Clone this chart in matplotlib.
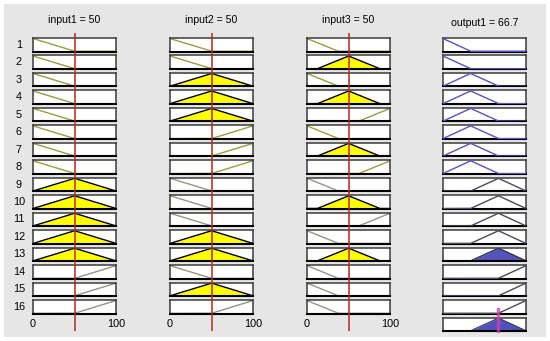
import numpy as np
import matplotlib.pyplot as plt


# =====================================
# Data
# =====================================

input_names = ["input1", "input2", "input3"]
input_values = [50, 50, 50]
output_name = "output1"
output_value = 66.7

# membership functions (triangles a, b, c) per variable
in12_mfs = [(0, 0, 50), (0, 50, 100), (50, 100, 100)]
in3_mfs = [(0, 0, 37.5), (12.5, 50, 87.5), (62.5, 100, 100)]
input_mfs = [in12_mfs, in12_mfs, in3_mfs]
output_mfs = [(0, 0, 33.3), (0, 33.3, 66.7), (33.3, 66.7, 100), (66.7, 100, 100)]

# rule base (mf index for each rule)
rule_in1 = [0, 0, 0, 0, 0, 0, 0, 0, 1, 1, 1, 1, 1, 2, 2, 2]
rule_in2 = [0, 0, 1, 1, 1, 2, 2, 2, 0, 0, 0, 1, 1, 0, 1, 2]
rule_in3 = [0, 1, 0, 1, 2, 0, 1, 2, 0, 1, 2, 0, 1, 0, 0, 0]
rule_out = [0, 0, 1, 1, 1, 1, 1, 1, 2, 2, 2, 2, 2, 3, 3, 3]
rule_inputs = [rule_in1, rule_in2, rule_in3]


def trimf(x, p):
    a, b, c = p
    y = np.zeros_like(x)
    if b > a:
        m = (x >= a) & (x <= b)
        y[m] = (x[m] - a) / (b - a)
    else:
        y[(x >= a) & (x <= b)] = 1.0
    if c > b:
        m = (x >= b) & (x <= c)
        y[m] = np.maximum(y[m], (c - x[m]) / (c - b))
    else:
        y[x == c] = 1.0
    return y


x = np.linspace(0, 100, 601)


# =====================================
# Layout (pixels)
# =====================================

W, H = 550, 341
fig = plt.figure(figsize=(W / 100, H / 100), dpi=100)
fig.patch.set_facecolor("white")


def px_axes(x0, y0, w, h):
    return fig.add_axes([x0 / W, 1 - (y0 + h) / H, w / W, h / H])


bg = px_axes(4, 4, 542, 333)
bg.set_facecolor("#e6e6e6")
bg.set_xticks([])
bg.set_yticks([])
for s in bg.spines.values():
    s.set_visible(False)
bg.set_zorder(-5)

col_x = [33, 170, 307, 443]
box_w = 83
row_top0 = 38
pitch = 17.47
box_h = 13.5


def style_box(ax):
    ax.set_xlim(0, 100)
    ax.set_ylim(-0.02, 1.04)
    ax.set_xticks([])
    ax.set_yticks([])
    ax.set_facecolor("white")
    for s in ax.spines.values():
        s.set_color("#3a3a3a")
        s.set_linewidth(1.1)
    ax.spines["bottom"].set_color("black")
    ax.spines["bottom"].set_linewidth(1.5)


n_rules = len(rule_out)
strengths = []

# =====================================
# Input columns
# =====================================

for r in range(n_rules):
    mus = []
    for j in range(3):
        mf = input_mfs[j][rule_inputs[j][r]]
        mus.append(trimf(np.array([float(input_values[j])]), mf)[0])
    strengths.append(min(mus))

    for j in range(3):
        mf = input_mfs[j][rule_inputs[j][r]]
        mu = mus[j]
        y = trimf(x, mf)
        ax = px_axes(col_x[j], row_top0 + r * pitch, box_w, box_h)
        style_box(ax)
        if mu > 0:
            ax.fill_between(x, 0, np.minimum(y, mu), color="#ffff00", lw=0)
            ax.plot(x, y, color="black", lw=1.0)
        else:
            c = "#9c9c40" if r < 8 else "#9a9486"
            ax.plot(x, y, color=c, lw=1.0)

# row labels
for r in range(n_rules):
    yc = row_top0 + r * pitch + box_h / 2
    fig.text(19 / W, 1 - yc / H, str(r + 1), ha="center", va="center",
             fontsize=7.8, family="Liberation Sans")

# titles and tick labels
for j in range(3):
    xc = col_x[j] + box_w / 2
    fig.text(xc / W, 1 - 20 / H, f"{input_names[j]} = {input_values[j]}",
             ha="center", va="center", fontsize=7.6, family="Liberation Sans")
    fig.text(col_x[j] / W, 1 - 324 / H, "0", ha="center", va="center",
             fontsize=7.8, family="Liberation Sans")
    fig.text((col_x[j] + box_w) / W, 1 - 324 / H, "100", ha="center",
             va="center", fontsize=7.8, family="Liberation Sans")

# red input lines
for j in range(3):
    ov = px_axes(col_x[j], 33, box_w, 298)
    ov.set_xlim(0, 100)
    ov.set_ylim(0, 1)
    ov.axis("off")
    ov.axvline(input_values[j], color="#b22a22", lw=1.1)


# =====================================
# Output column
# =====================================

agg = np.zeros_like(x)
for r in range(n_rules):
    mf = output_mfs[rule_out[r]]
    y = trimf(x, mf)
    ax = px_axes(col_x[3], row_top0 + r * pitch, box_w, box_h)
    style_box(ax)
    s = strengths[r]
    if s > 0:
        clipped = np.minimum(y, s)
        agg = np.maximum(agg, clipped)
        ax.fill_between(x, 0, clipped, color="#5454bc", lw=0)
        ax.plot(x, y, color="#30304a", lw=1.0)
    else:
        c = "#5a50c8" if r < 8 else "#4a4a58"
        ax.plot(x, y, color=c, lw=1.0, zorder=3)

ax = px_axes(col_x[3], row_top0 + n_rules * pitch, box_w, box_h)
style_box(ax)
ax.fill_between(x, 0, agg, color="#5050c0", lw=0)
ax.plot(x, agg, color="#30304a", lw=0.8)

ov = px_axes(col_x[3], 308, box_w, 25)
ov.set_xlim(0, 100)
ov.set_ylim(0, 1)
ov.axis("off")
ov.axvline(output_value, color="#d040a8", lw=2.5, alpha=0.75)

fig.text((col_x[3] + box_w / 2) / W, 1 - 23 / H,
         f"{output_name} = {output_value}", ha="center", va="center",
         fontsize=7.6, family="Liberation Sans")

fig.savefig("out.png", dpi=100, facecolor=fig.get_facecolor())
